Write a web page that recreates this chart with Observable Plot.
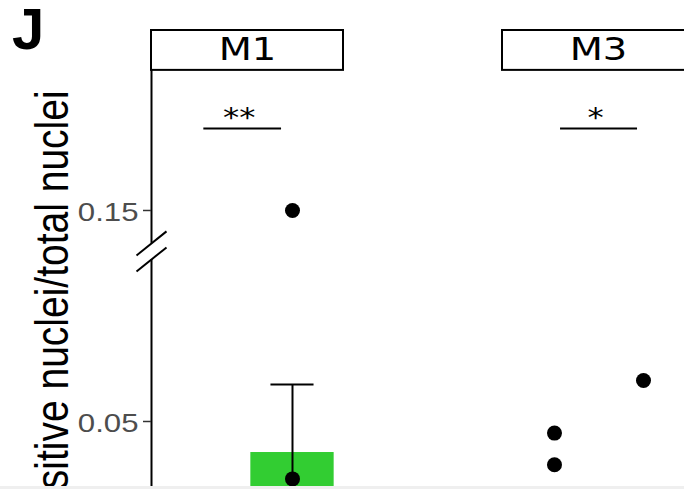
<!DOCTYPE html>
<html><head><meta charset="utf-8">
<script src="https://cdn.jsdelivr.net/npm/d3@7"></script>
<script src="https://cdn.jsdelivr.net/npm/@observablehq/plot@0.6"></script>
<style>
html,body{margin:0;padding:0;background:#fff;overflow:hidden;width:684px;height:489px;}
#wrap{position:relative;width:684px;height:489px;overflow:hidden;background:#fff;}
#chart{position:absolute;left:0;top:0;width:700px;}
#chart svg{max-width:none !important;width:700px;height:530px;}
#tag{position:absolute;left:12px;top:4px;font:bold 58px/50px "Liberation Sans",Arial,sans-serif;color:#000;}
#edge{position:absolute;left:0;top:486px;width:684px;height:3px;background:#efefef;}
</style></head><body>
<div id="wrap"><div id="chart"></div><div id="tag">J</div><div id="edge"></div></div>
<script>
// ---------- data ----------
const panels = ["M1", "M3"];
const yTicks = [0.05, 0.15];
const yTitle = "sitive nuclei/total nuclei";

// bar (mean ± error) visible in the picture
const barPanel = ["M1"];
const barGroup = [2];
const barMean = [0.0353];
const barLow = [0.0031];
const barHigh = [0.0675];

// individual points
const pointPanel = ["M1", "M1", "M3", "M3", "M3"];
const pointGroup = [2, 2, 1, 1, 2];
const pointValue = [0.150, 0.0228, 0.0445, 0.0295, 0.0694];

// significance annotations
const sigPanel = ["M1", "M3"];
const sigLabel = ["**", "*"];
const sigY = [0.1889, 0.1889];
const sigX1 = [1.004, 1.068];
const sigX2 = [1.877, 1.933];
const sigTextX = [1.401, 1.461];

// ---------- layout constants ----------
const X0 = 0.416, X1 = 2.573;          // x domain within a panel
const Y_TOP = 0.2353;                  // top of strip
const STRIP_Y1 = 0.2164;               // bottom of strip / top of panel
const STRIP_MID = 0.2258;
const Y_LABEL_END = 0.2069;
const AXIS_BREAK = [0.1344, 0.1268];
const BAR_HALF = 0.468, CAP_HALF = 0.242;
const BRK_DX = 0.1685, BRK_DY = 0.00569;
const STRETCH = 1.2;

const points = pointValue.map((v, i) => ({panel: pointPanel[i], g: pointGroup[i], v}));
const bars = barMean.map((m, i) => ({panel: barPanel[i], g: barGroup[i], mean: m, lo: barLow[i], hi: barHigh[i]}));
const sigs = sigLabel.map((s, i) => ({panel: sigPanel[i], label: s, y: sigY[i], x1: sigX1[i], x2: sigX2[i], xt: sigTextX[i]}));
const strips = panels.map(p => ({panel: p}));
const axisSegs = [{panel: "M1", y1: STRIP_Y1, y2: AXIS_BREAK[0]}, {panel: "M1", y1: AXIS_BREAK[1], y2: 0}];
const breaks = AXIS_BREAK.map(c => ({panel: "M1", c}));
const fmt = d3.format(".2f");

const chart = Plot.plot({
  width: 700, height: 530,
  marginLeft: 151, marginRight: 6, marginTop: 30, marginBottom: 3.5,
  style: {background: "white", overflow: "visible"},
  fx: {domain: panels, paddingInner: 0.453, paddingOuter: 0, axis: null, label: null},
  x: {type: "linear", domain: [X0, X1], axis: null},
  y: {domain: [0, Y_TOP]},
  marks: [
    Plot.rectY(bars, {fx: "panel", x1: d => d.g - BAR_HALF, x2: d => d.g + BAR_HALF, y1: () => 0, y2: "mean", fill: "#32CD32"}),
    Plot.ruleX(bars, {fx: "panel", x: "g", y1: "lo", y2: "hi", stroke: "black", strokeWidth: 2}),
    Plot.ruleY(bars, {fx: "panel", y: "hi", x1: d => d.g - CAP_HALF, x2: d => d.g + CAP_HALF, stroke: "black", strokeWidth: 2}),
    Plot.dot(points, {fx: "panel", x: "g", y: "v", r: 7.5, fill: "black", stroke: "none"}),
    // axis line with break
    Plot.ruleX(axisSegs, {fx: "panel", x: () => X0, y1: "y1", y2: "y2", stroke: "black", strokeWidth: 2}),
    Plot.link(breaks, {fx: "panel", x1: () => X0 - BRK_DX, y1: d => d.c - BRK_DY, x2: () => X0 + BRK_DX, y2: d => d.c + BRK_DY, stroke: "black", strokeWidth: 2}),
    // y axis: tick marks, then labels
    Plot.axisY({ticks: yTicks, tickSize: 8, tickFormat: () => "", stroke: "#333", strokeWidth: 1.5, label: null}),
    Plot.axisY({ticks: yTicks, tickSize: 0, tickPadding: 13, tickFormat: fmt, fontSize: 26, dy: 2,
      fontFamily: "Liberation Sans, Arial, sans-serif", fill: "#4d4d4d", label: null}),
    // strips
    Plot.rect(strips, {fx: "panel", x1: () => X0, x2: () => X1, y1: () => STRIP_Y1, y2: () => Y_TOP, fill: "white", stroke: "black", strokeWidth: 2}),
    Plot.text(strips, {fx: "panel", x: () => (X0 + X1) / 2, y: () => STRIP_MID, text: "panel", dy: -1, fontFamily: "DejaVu Sans, Verdana, sans-serif", fontSize: 32, fill: "black"}),
    // significance
    Plot.ruleY(sigs, {fx: "panel", y: "y", x1: "x1", x2: "x2", stroke: "black", strokeWidth: 2}),
    Plot.text(sigs, {fx: "panel", x: "xt", y: "y", text: "label", lineAnchor: "bottom", dy: -1.5, fontFamily: "DejaVu Sans, Verdana, sans-serif", fontSize: 27, fill: "black"}),
    // y title
    Plot.text([{panel: "M1", t: yTitle}], {fx: "panel", frameAnchor: "left", y: () => Y_LABEL_END, text: "t", rotate: -90,
      textAnchor: "end", lineAnchor: "bottom", dx: -84, fontFamily: "Liberation Sans, Arial, sans-serif", fontSize: 39, fill: "black"})
  ]
});

// widen text glyphs horizontally as in the reference
chart.querySelectorAll("text").forEach(t => {
  const tr = t.getAttribute("transform") || "";
  t.setAttribute("transform", tr + (tr.includes("rotate") ? ` scale(1,${STRETCH})` : ` scale(${STRETCH},1)`));
});

document.getElementById("chart").append(chart);
</script>
</body></html>
